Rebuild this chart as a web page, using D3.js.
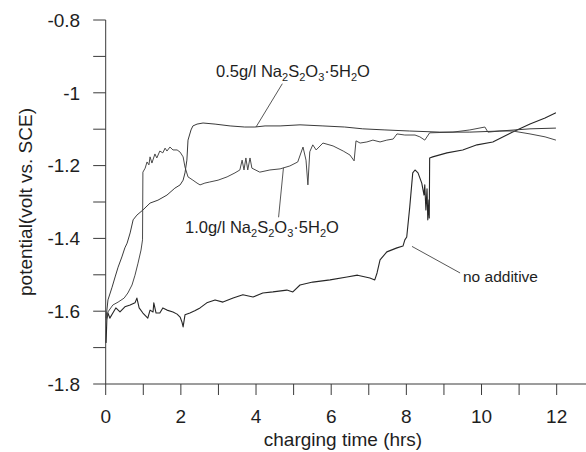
<!DOCTYPE html>
<html>
<head>
<meta charset="utf-8">
<script src="https://cdn.jsdelivr.net/npm/d3@7"></script>
<style>
  html, body { margin: 0; padding: 0; background: #fff; }
  svg { display: block; font-family: "Liberation Sans", Arial, sans-serif; }
</style>
</head>
<body>
<svg id="chart" width="586" height="452"></svg>
<script>
// ---- data (hours, volt vs. SCE) ----
const yTickValues = [-0.8, -1.0, -1.2, -1.4, -1.6, -1.8];
const yTickLabels = ["-0.8", "-1", "-1.2", "-1.4", "-1.6", "-1.8"];
const yMinorValues = [-0.9, -1.1, -1.3, -1.5, -1.7];
const xTickValues = [0, 2, 4, 6, 8, 10, 12];
const xMinorValues = [1, 3, 5, 7, 9, 11];

const seriesHalfT = [0.01,0.06,0.17,0.25,0.33,0.43,0.51,0.57,0.65,0.73,0.83,0.99,1.18,1.39,1.63,1.84,1.98,2.06,2.11,2.16,2.19,2.27,2.32,2.43,2.59,2.91,3.31,3.70,3.97,4.24,4.64,5.17,5.78,6.36,6.84,7.43,8.09,8.89,9.69,10.49,11.29,11.98];
const seriesHalfV = [-1.619,-1.569,-1.534,-1.506,-1.479,-1.451,-1.426,-1.413,-1.385,-1.349,-1.336,-1.322,-1.303,-1.295,-1.281,-1.262,-1.253,-1.240,-1.220,-1.185,-1.130,-1.102,-1.091,-1.086,-1.083,-1.086,-1.091,-1.094,-1.094,-1.091,-1.091,-1.088,-1.091,-1.094,-1.099,-1.102,-1.105,-1.108,-1.108,-1.105,-1.099,-1.097];

const seriesOneT = [0.01,0.06,0.19,0.33,0.49,0.59,0.70,0.78,0.86,0.94,0.98,0.99,1.05,1.10,1.15,1.18,1.23,1.31,1.36,1.44,1.52,1.58,1.63,1.71,1.79,1.90,1.98,2.06,2.11,2.19,2.32,2.43,2.51,2.64,2.77,2.99,3.23,3.44,3.57,3.63,3.68,3.73,3.78,3.84,3.89,4.10,4.37,4.64,4.90,5.11,5.25,5.33,5.38,5.43,5.51,5.60,5.78,6.05,6.32,6.50,6.61,6.66,6.77,6.95,7.11,7.30,7.48,7.65,7.75,7.96,8.23,8.36,8.49,8.62,9.24,9.69,10.09,10.17,10.49,10.83,11.29,11.69,11.98];
const seriesOneV = [-1.624,-1.602,-1.583,-1.575,-1.564,-1.550,-1.528,-1.501,-1.468,-1.432,-1.404,-1.218,-1.207,-1.190,-1.198,-1.176,-1.193,-1.168,-1.179,-1.160,-1.165,-1.152,-1.160,-1.149,-1.157,-1.157,-1.163,-1.176,-1.204,-1.231,-1.240,-1.248,-1.253,-1.248,-1.245,-1.240,-1.231,-1.220,-1.212,-1.185,-1.212,-1.179,-1.212,-1.179,-1.207,-1.218,-1.212,-1.209,-1.201,-1.190,-1.149,-1.185,-1.253,-1.162,-1.143,-1.157,-1.138,-1.146,-1.160,-1.171,-1.187,-1.132,-1.138,-1.135,-1.130,-1.135,-1.130,-1.127,-1.113,-1.116,-1.116,-1.121,-1.130,-1.110,-1.108,-1.102,-1.094,-1.108,-1.105,-1.105,-1.113,-1.121,-1.130];

const seriesNoneT = [0.01,0.03,0.06,0.11,0.19,0.27,0.38,0.51,0.65,0.78,0.83,0.89,0.99,1.12,1.18,1.26,1.28,1.34,1.44,1.52,1.63,1.79,1.90,1.98,2.03,2.06,2.11,2.24,2.37,2.51,2.69,2.91,3.12,3.39,3.65,3.92,4.18,4.45,4.82,4.98,5.17,5.51,5.97,6.42,6.70,7.03,7.16,7.22,7.30,7.48,7.75,7.91,7.96,8.01,8.09,8.17,8.23,8.31,8.41,8.47,8.49,8.52,8.55,8.57,8.60,8.61,8.62,8.70,9.08,9.50,9.88,10.30,10.83,11.29,11.69,11.98];
const seriesNoneV = [-1.687,-1.624,-1.605,-1.619,-1.605,-1.591,-1.602,-1.588,-1.583,-1.577,-1.564,-1.591,-1.605,-1.619,-1.597,-1.602,-1.577,-1.605,-1.605,-1.591,-1.597,-1.602,-1.608,-1.616,-1.630,-1.643,-1.610,-1.605,-1.599,-1.591,-1.577,-1.569,-1.575,-1.564,-1.555,-1.561,-1.550,-1.547,-1.542,-1.547,-1.528,-1.520,-1.514,-1.506,-1.501,-1.509,-1.514,-1.495,-1.459,-1.437,-1.426,-1.421,-1.404,-1.396,-1.314,-1.220,-1.212,-1.220,-1.248,-1.281,-1.253,-1.322,-1.264,-1.349,-1.294,-1.344,-1.179,-1.176,-1.165,-1.157,-1.143,-1.135,-1.108,-1.086,-1.069,-1.055];

// ---- layout ----
const svg = d3.select("#chart");
const x = d3.scaleLinear().domain([0, 12.78]).range([105.7, 586]);
const y = d3.scaleLinear().domain([-0.8, -1.8]).range([20, 384]);
const axisColor = "#3a3a3a";
const textColor = "#1e1e1e";

// Y axis
const yAxis = svg.append("g").attr("transform", `translate(${x(0)},0)`);
yAxis.append("line").attr("x1", 0).attr("x2", 0).attr("y1", y(-0.8)).attr("y2", y(-1.8))
  .attr("stroke", axisColor).attr("stroke-width", 1);
yAxis.selectAll("line.tk").data(yTickValues.concat(yMinorValues)).enter().append("line")
  .attr("class", "tk").attr("x1", -12.5).attr("x2", 0)
  .attr("y1", d => y(d)).attr("y2", d => y(d))
  .attr("stroke", axisColor).attr("stroke-width", 1);
yAxis.selectAll("text").data(yTickValues).enter().append("text")
  .attr("x", -25.5).attr("y", d => y(d)).attr("dy", "0.36em")
  .attr("text-anchor", "end").attr("font-size", 19).attr("fill", textColor)
  .text((d, i) => yTickLabels[i]);

// X axis
const xAxis = svg.append("g").attr("transform", `translate(0,${y(-1.8)})`);
xAxis.append("line").attr("x1", x(0)).attr("x2", x.range()[1]).attr("y1", 0).attr("y2", 0)
  .attr("stroke", axisColor).attr("stroke-width", 1);
xAxis.selectAll("line.tk").data(xTickValues.concat(xMinorValues)).enter().append("line")
  .attr("class", "tk").attr("x1", d => x(d)).attr("x2", d => x(d)).attr("y1", 0).attr("y2", 11)
  .attr("stroke", axisColor).attr("stroke-width", 1);
xAxis.selectAll("text").data(xTickValues).enter().append("text")
  .attr("x", d => x(d)).attr("y", 39)
  .attr("text-anchor", "middle").attr("font-size", 19).attr("fill", textColor)
  .text(d => d);

// Axis titles
svg.append("text").attr("x", 343).attr("y", 446)
  .attr("text-anchor", "middle").attr("font-size", 19).attr("fill", textColor)
  .text("charging time (hrs)");
svg.append("text").attr("transform", `translate(32,${(y(-0.8) + y(-1.8)) / 2}) rotate(-90)`)
  .attr("text-anchor", "middle").attr("font-size", 19).attr("fill", textColor)
  .text("potential(volt vs. SCE)");

// Series
const line = d3.line().x(d => x(d[0])).y(d => y(d[1]));
const series = [
  { t: seriesNoneT, v: seriesNoneV, color: "#262626", w: 1.1 },
  { t: seriesOneT, v: seriesOneV, color: "#4a4a4a", w: 1 },
  { t: seriesHalfT, v: seriesHalfV, color: "#3a3a3a", w: 1 }
];
series.forEach(s => {
  svg.append("path").datum(d3.zip(s.t, s.v)).attr("d", line)
    .attr("fill", "none").attr("stroke", s.color).attr("stroke-width", s.w)
    .attr("stroke-linejoin", "round");
});

// Annotations
function formulaLabel(px, py, prefix) {
  const t = svg.append("text").attr("x", px).attr("y", py)
    .attr("font-size", 16.5).attr("fill", textColor);
  const parts = [[prefix + "Na", 0], ["2", 1], ["S", 0], ["2", 1], ["O", 0], ["3", 1], ["·5H", 0], ["2", 1], ["O", 0]];
  parts.forEach(([s, sub]) => {
    t.append("tspan").attr("font-size", sub ? 11 : 16.5)
      .attr("baseline-shift", sub ? "-4" : null)
      .text(s);
  });
}
formulaLabel(216, 77, "0.5g/l ");
formulaLabel(185, 233, "1.0g/l ");
svg.append("text").attr("x", 463).attr("y", 282).attr("font-size", 15.5).attr("fill", textColor).text("no additive");

// leader lines (attached to data positions)
const leaders = [
  [[4.7, -0.975], [4.0, -1.094]],
  [[4.6, -1.342], [4.73, -1.206]],
  [[8.15, -1.422], [9.43, -1.495]]
];
leaders.forEach(l => svg.append("line")
  .attr("x1", x(l[0][0])).attr("y1", y(l[0][1])).attr("x2", x(l[1][0])).attr("y2", y(l[1][1]))
  .attr("stroke", "#444").attr("stroke-width", 0.9));
</script>
</body>
</html>
